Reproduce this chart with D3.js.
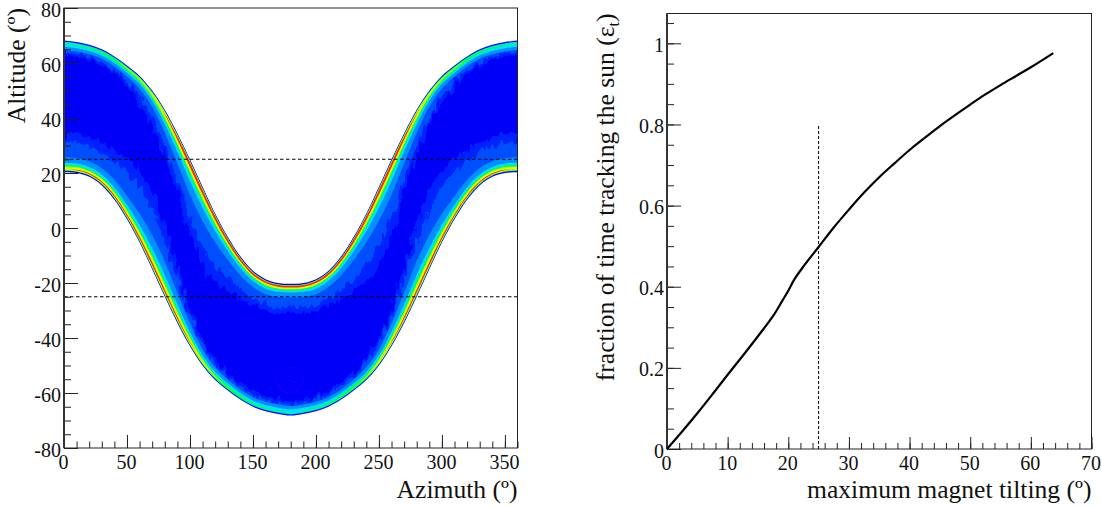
<!DOCTYPE html>
<html><head><meta charset="utf-8">
<script src="https://cdn.jsdelivr.net/npm/d3@7"></script>
<style>html,body{margin:0;background:#fff}svg{display:block}text{font-family:"Liberation Serif",serif;fill:#111}</style>
</head><body><svg id="c" width="1102" height="506"></svg>
<script>
// ---- left panel data (read at 10 degree steps of azimuth)
const azimuths = [0,10,20,30,40,50,60,70,80,90,100,110,120,130,140,150,160,170,180,190,200,210,220,230,240,250,260,270,280,290,300,310,320,330,340,350,360];
const upperEdge = [68.2,67.6,66.6,65,62.4,59.1,55.3,50,43,34.5,25,15,5.3,-3.2,-10.3,-15.5,-18.6,-20,-20.3,-20,-18.6,-15.5,-10.3,-3.2,5.3,15,25,34.5,43,50,55.3,59.1,62.4,65,66.6,67.6,68.2];
const lowerEdge = [20.3,20,18.6,15.5,10.3,3.2,-5.3,-15,-25,-34.5,-43,-50,-55.3,-59.1,-62.4,-65,-66.6,-67.6,-68.2,-67.6,-66.6,-65,-62.4,-59.1,-55.3,-50,-43,-34.5,-25,-15,-5.3,3.2,10.3,15.5,18.6,20,20.3];
const upperWidth = [3,3,3,3,3.2,3.6,4.2,5.5,8,10.5,12.5,12,10,8,6.5,5.5,5,4.6,4.5,4.6,5,5.5,6.5,8,10,12,12.5,10.5,8,5.5,4.2,3.6,3.2,3,3,3,3];
const lowerWidth = [5,5,5.2,5.8,6.8,8,10,12,12.5,10.5,8,5.5,4.2,3.6,3.2,3,3,3,3,3,3,3,3.2,3.6,4.2,5.5,8,10.5,12.5,12,10,8,6.8,5.8,5.2,5,5];
const upperPeak = [3.3,3.4,3.5,3.7,4,4.3,4.5,4.8,5.2,5.8,6.4,6.6,6.5,6.4,6.2,6,5.9,5.9,6,5.9,5.9,6,6.2,6.4,6.5,6.6,6.4,5.8,5.2,4.8,4.5,4.3,4,3.7,3.5,3.4,3.3];
const lowerPeak = [4.8,5.2,5.4,5.4,5.6,5.6,5.7,5.7,5.6,5.5,5.2,4.8,4.4,4.1,3.8,3.6,3.4,3.3,3.2,3.3,3.4,3.6,3.8,4.1,4.4,4.8,5.2,5.5,5.6,5.7,5.7,5.6,5.6,5.4,5.4,5.2,4.8];
const upperHalo = [4,4,4.2,4.5,5,6,7.5,10,13,17,21,22,19,15,12,10,9,8.5,8,8.5,9,10,12,15,19,22,21,17,13,10,7.5,6,5,4.5,4.2,4,4];
const lowerHalo = [11,11,11,12,14,17,20,22,20,16,11,8,6,5,5,4.5,4.2,4,4,4,4.2,4.5,5,5,6,8,11,16,20,22,20,17,14,12,11,11,11];
const tiltLines = [25,-25];
// faint low-occupancy contours near the lower culmination
const ringAz = [179,179,179], ringAlt = [-57,-57,-55], ringRx = [6,10,14], ringRy = [3,5.5,8];
// colour levels from low to high occupancy; outer / inner depth in units of the band width
const levelColors = ["#0090ff","#00e0ff","#00ff50","#d8ff00","#ff2800"];
const levelOuter = [0.015,0.02,0.03,0.04,0.06];
const levelInner = [1.0,0.6,0.45,0.33,0.2];

// ---- right panel data
const tilting = [0,2.5,5,7.5,10,12.5,15,17.5,19,20,21,22.5,25,27.5,30,32.5,35,37.5,40,42.5,45,47.5,50,52.5,55,57.5,60,63.7];
const fraction = [0,0.043,0.088,0.135,0.183,0.230,0.278,0.328,0.365,0.390,0.418,0.450,0.498,0.546,0.590,0.632,0.670,0.704,0.737,0.767,0.796,0.823,0.849,0.874,0.897,0.919,0.941,0.976];
const tiltMark = 25, tiltMarkTop = 0.8;

const svg = d3.select("#c");
const L = {l:64,r:517.5,t:8,b:448}, R = {l:667,r:1091.5,t:13.5,b:449};
const xL = d3.scaleLinear().domain([0,360]).range([L.l,L.r]);
const yL = d3.scaleLinear().domain([-80,80]).range([L.b,L.t]);
const xR = d3.scaleLinear().domain([0,70]).range([R.l,R.r]);
const yR = d3.scaleLinear().domain([0,1.0735]).range([R.b,R.t]);
const curve = d3.curveCatmullRom.alpha(0.5);
const rim = 0.45;

const defs = svg.append("defs");
defs.append("clipPath").attr("id","cl").append("rect").attr("x",L.l).attr("y",L.t).attr("width",L.r-L.l).attr("height",L.b-L.t);
const bandArea = (y0f,y1f)=>d3.area().curve(curve).x(a=>xL(a)).y0((a,i)=>yL(y0f(i))).y1((a,i)=>yL(y1f(i)));
defs.append("clipPath").attr("id","inner").append("path").datum(azimuths)
  .attr("d",bandArea(i=>lowerEdge[i]+rim,i=>upperEdge[i]-rim));
const f = defs.append("filter").attr("id","rough").attr("x","-5%").attr("y","-5%").attr("width","110%").attr("height","110%");
f.append("feTurbulence").attr("type","fractalNoise").attr("baseFrequency","0.22 0.07").attr("numOctaves",2).attr("seed",4).attr("result","n");
f.append("feDisplacementMap").attr("in","SourceGraphic").attr("in2","n").attr("scale",13).attr("xChannelSelector","R").attr("yChannelSelector","G");

const heat = svg.append("g").attr("clip-path","url(#cl)");
function band(parent,y0f,y1f,fill){
  parent.append("path").datum(azimuths).attr("d",bandArea(y0f,y1f)).attr("fill",fill);
}
band(heat,i=>lowerEdge[i],i=>upperEdge[i],"#0000f8");
const hazeClip = heat.append("g").attr("clip-path","url(#inner)");
const haze = hazeClip.append("g").attr("filter","url(#rough)");
band(haze,i=>upperEdge[i]+3,i=>upperEdge[i]-upperHalo[i]*1.3,"#0020ff");
band(haze,i=>lowerEdge[i]-3,i=>lowerEdge[i]+lowerHalo[i]*1.3,"#0020ff");
band(haze,i=>upperEdge[i]+3,i=>upperEdge[i]-upperHalo[i],"#0050ff");
band(haze,i=>lowerEdge[i]-3,i=>lowerEdge[i]+lowerHalo[i],"#0050ff");
// contours
heat.append("g").selectAll("ellipse").data(ringAz).join("ellipse")
  .attr("cx",d=>xL(d)).attr("cy",(d,i)=>yL(ringAlt[i])).attr("rx",(d,i)=>ringRx[i]).attr("ry",(d,i)=>ringRy[i]*1.5)
  .attr("fill","none").attr("stroke","#2000f4").attr("stroke-width",0.6);
levelColors.forEach((col,k)=>{
  const lev = k+2;
  const t = pk=>Math.max(0,Math.min(1,pk-lev+1));
  const mid = (levelOuter[k]+levelInner[k])/2;
  const half = (levelInner[k]-levelOuter[k])/2;
  band(heat,i=>upperEdge[i]-rim-upperWidth[i]*(mid-half*t(upperPeak[i])),
            i=>upperEdge[i]-rim-upperWidth[i]*(mid+half*t(upperPeak[i])),col);
  band(heat,i=>lowerEdge[i]+rim+lowerWidth[i]*(mid-half*t(lowerPeak[i])),
            i=>lowerEdge[i]+rim+lowerWidth[i]*(mid+half*t(lowerPeak[i])),col);
});

// dashed reference lines
svg.append("g").selectAll("line").data(tiltLines).join("line")
  .attr("x1",L.l).attr("x2",L.r).attr("y1",d=>yL(d)).attr("y2",d=>yL(d))
  .attr("stroke","#000").attr("stroke-width",1).attr("stroke-dasharray","3.5 2.5");

function axes(P,x,y,xMaj,xMin,yMaj,yMin,yFmt,xMajLen,xMinLen,yMajLen,yMinLen){
  const style = g=>{g.select(".domain").remove();g.selectAll("line").attr("stroke","#222").attr("stroke-width",1);};
  svg.append("g").attr("transform",`translate(0,${P.b})`)
    .call(d3.axisBottom(x).tickValues(xMin).tickSize(-xMinLen).tickFormat("")).call(style);
  svg.append("g").attr("transform",`translate(0,${P.b})`)
    .call(d3.axisBottom(x).tickValues(xMaj).tickSize(-xMajLen).tickPadding(5).tickFormat(d3.format("d")))
    .call(style).selectAll("text").attr("font-size",20).attr("fill","#111").attr("dy","0.8em").attr("transform","translate(-1,0)");
  svg.append("g").attr("transform",`translate(${P.l},0)`)
    .call(d3.axisLeft(y).tickValues(yMin).tickSize(-yMinLen).tickFormat("")).call(style);
  svg.append("g").attr("transform",`translate(${P.l},0)`)
    .call(d3.axisLeft(y).tickValues(yMaj).tickSize(-yMajLen).tickPadding(3).tickFormat(yFmt))
    .call(style).selectAll("text").attr("font-size",20).attr("fill","#111").attr("dy","0.4em");
  svg.append("rect").attr("x",P.l).attr("y",P.t).attr("width",P.r-P.l).attr("height",P.b-P.t)
    .attr("fill","none").attr("stroke","#222").attr("stroke-width",1);
  svg.append("line").attr("x1",P.l).attr("x2",P.l).attr("y1",P.t).attr("y2",P.b).attr("stroke","#333").attr("stroke-width",2);
}
const hyphen = fmt=>d=>fmt(d).replace("\u2212","-");
const xMajL = d3.range(0,351,50), xMinL = d3.range(0,361,10);
const yMajL = d3.range(-80,81,20), yMinL = d3.range(-80,81,5);
axes(L,xL,yL,xMajL,xMinL,yMajL,yMinL,hyphen(d3.format("d")),13,6.5,14,7);

const xMajR = d3.range(0,71,10), xMinR = d3.range(0,71,2);
const yMajR = [0,0.2,0.4,0.6,0.8,1], yMinR = d3.range(0,1.051,0.05);
axes(R,xR,yR,xMajR,xMinR,yMajR,yMinR,d=>d3.format("~g")(d),12,6,14,7);

// right panel curve
svg.append("path").datum(d3.zip(tilting,fraction))
  .attr("d",d3.line().curve(curve).x(d=>xR(d[0])).y(d=>yR(d[1])))
  .attr("fill","none").attr("stroke","#000").attr("stroke-width",2.2);
svg.append("line").attr("x1",xR(tiltMark)).attr("x2",xR(tiltMark)).attr("y1",yR(0)).attr("y2",yR(tiltMarkTop))
  .attr("stroke","#000").attr("stroke-width",1).attr("stroke-dasharray","3 2");

// titles
const ts = 25.6;
svg.append("text").attr("x",L.r).attr("y",498).attr("text-anchor","end").attr("font-size",ts).text("Azimuth (º)");
svg.append("text").attr("x",R.r).attr("y",498).attr("text-anchor","end").attr("font-size",ts).text("maximum magnet tilting (º)");
svg.append("text").attr("transform",`translate(25,${L.t}) rotate(-90)`).attr("text-anchor","end").attr("font-size",ts).text("Altitude (º)");
const yt = svg.append("text").attr("transform",`translate(614,${R.t}) rotate(-90)`).attr("text-anchor","end").attr("font-size",ts);
yt.append("tspan").text("fraction of time tracking the sun (ε");
yt.append("tspan").attr("font-size",16).attr("dy",5).text("t");
yt.append("tspan").attr("dy",-5).text(")");
</script></body></html>
